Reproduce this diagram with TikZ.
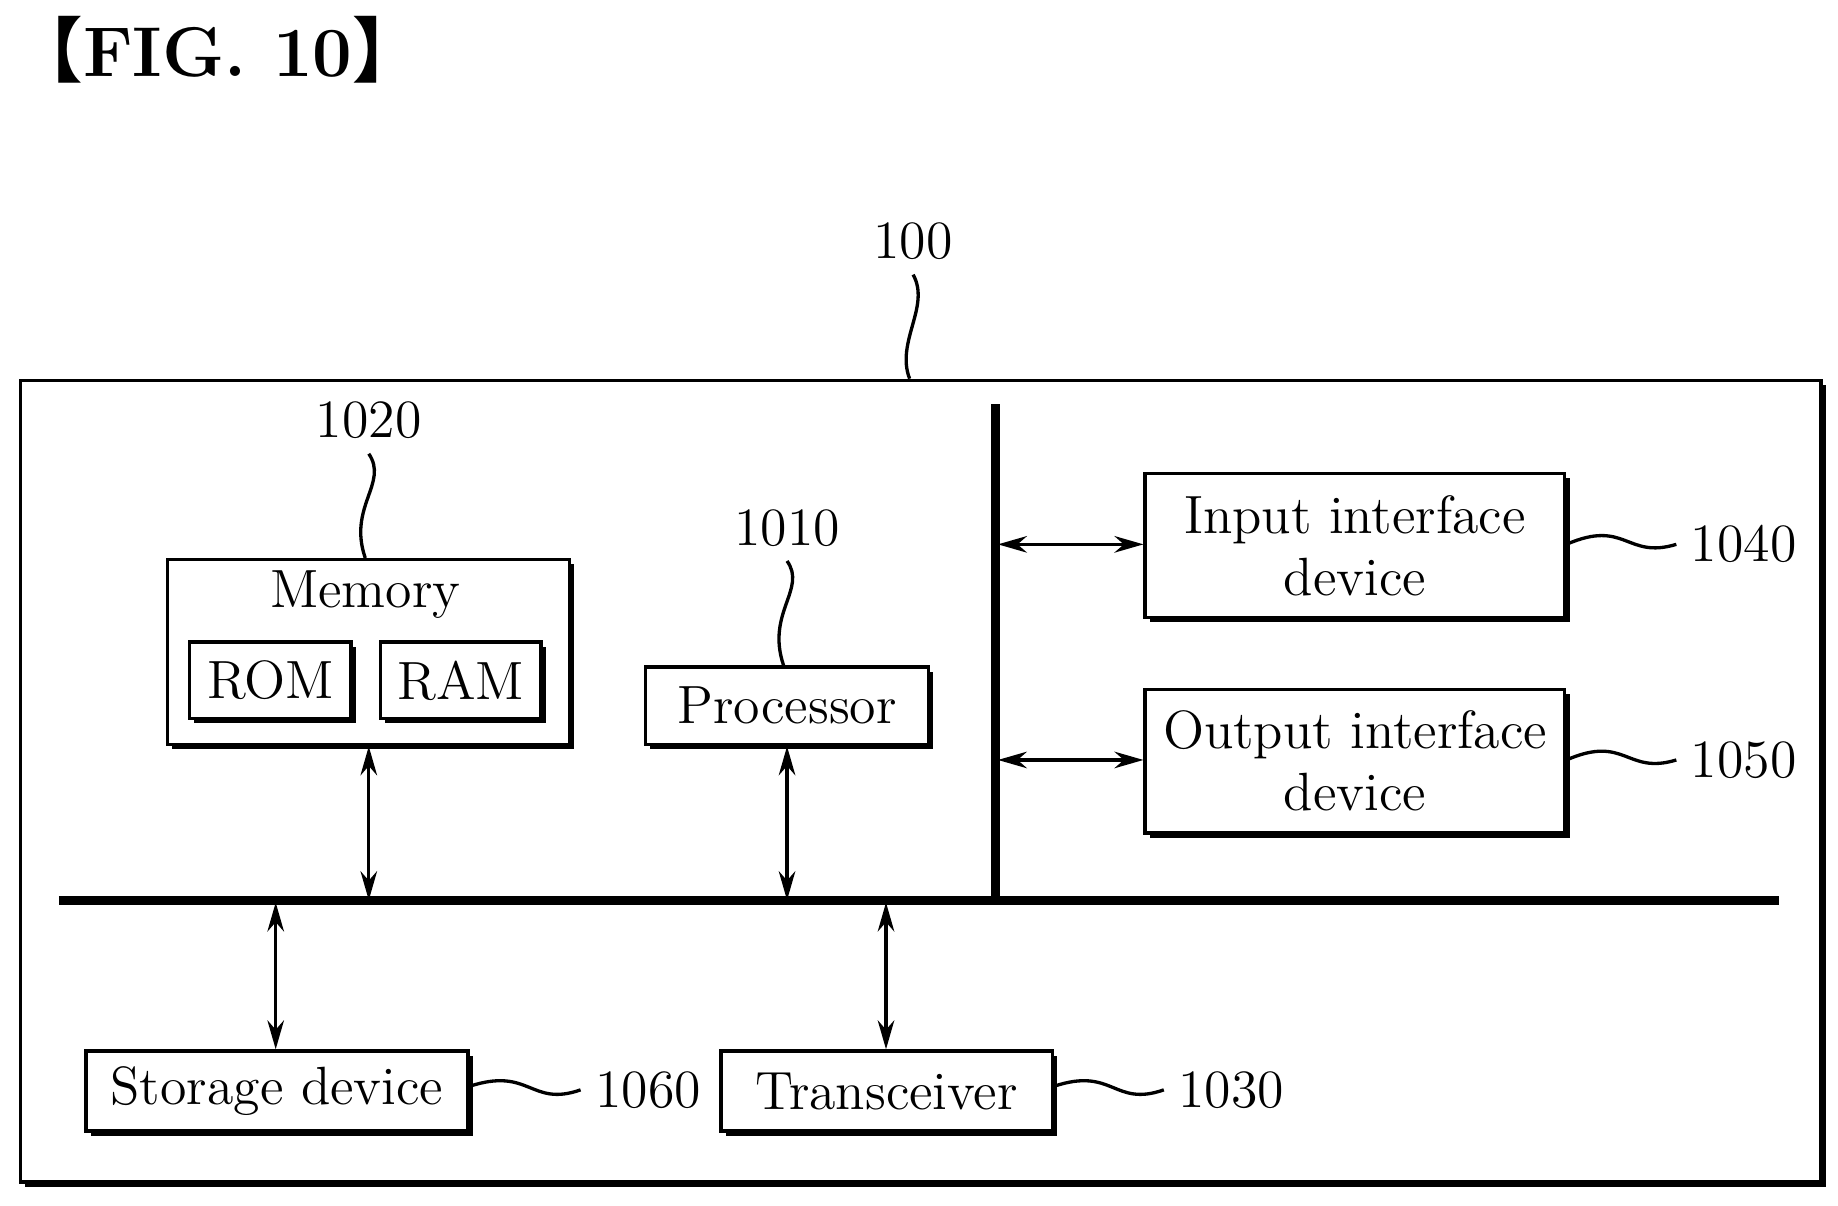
\documentclass[tikz,border=0pt]{standalone}
\usepackage{fontspec}
\newfontfamily\cjk{Noto Sans CJK SC}
\usetikzlibrary{shadows,arrows.meta}
\begin{document}
\begin{tikzpicture}[x=0.01cm,y=-0.01cm,
  every node/.style={font=\fontsize{13}{15}\selectfont},
  box/.style={draw,line width=0.8pt,fill=white,inner sep=0pt,
    drop shadow={fill=black,opacity=1,shadow xshift=0.04cm,shadow yshift=-0.04cm}},
  bus/.style={line width=2.2pt},
  arr/.style={line width=0.8pt,{Stealth[length=7pt,width=4pt]}-{Stealth[length=7pt,width=4pt]}},
  sq/.style={line width=0.8pt}]
\useasboundingbox (0,0) rectangle (1560,1023);
\node[anchor=west,inner sep=0pt,font=\fontsize{17}{20}\bfseries] (title) at (10,42) {{\cjk 【}FIG. 10{\cjk 】}};
\node[box,minimum width=15.27cm,minimum height=6.8cm] (outer) at (781.5,663) {};
\node (l100) at (775,205) {100};
\draw[sq] (l100.south) .. controls (790,260) and (760,290) .. (outer.north -| 772,0);
\draw[bus] (845,343) coordinate (vt) -- (845,764) coordinate (vb);
\draw[bus] (50,764) coordinate (hl) -- (1510,764) coordinate (hr);
\node[box,minimum width=3.41cm,minimum height=1.57cm] (mem) at (312.5,553.5) {};
\node (memt) at (310,505) {Memory};
\node[box,minimum width=1.37cm,minimum height=0.65cm] (rom) at (229.5,577.5) {ROM};
\node[box,minimum width=1.36cm,minimum height=0.65cm] (ram) at (391,577.5) {RAM};
\node (l1020) at (313,357) {1020};
\draw[sq] (l1020.south) .. controls (330,410) and (295,430) .. (mem.north -| 310,0);
\node[box,minimum width=2.4cm,minimum height=0.66cm] (proc) at (668,599) {Processor};
\node (l1010) at (668,448) {1010};
\draw[sq] (l1010.south) .. controls (685,500) and (650,520) .. (proc.north -| 665,0);
\coordinate (bm) at (313,764);
\coordinate (bp) at (668,764);
\draw[arr] (mem.south -| bm) -- (bm);
\draw[arr] (proc.south -| bp) -- (bp);
\node[box,minimum width=3.56cm,minimum height=1.22cm,align=center] (in) at (1150,463) {Input interface\\device};
\node[box,minimum width=3.56cm,minimum height=1.22cm,align=center] (out) at (1150,646) {Output interface\\device};
\coordinate (vi) at (847,462);
\coordinate (vo) at (847,645);
\draw[arr] (vi) -- (in.west |- vi);
\draw[arr] (vo) -- (out.west |- vo);
\node (l1040) at (1480,462) {1040};
\node (l1050) at (1480,645) {1050};
\draw[sq] (in.east |- 0,462) .. controls (1380,440) and (1380,475) .. (l1040.west);
\draw[sq] (out.east |- 0,645) .. controls (1380,623) and (1380,658) .. (l1050.west);
\node[box,minimum width=3.24cm,minimum height=0.68cm] (sto) at (235,926) {Storage device};
\node[box,minimum width=2.81cm,minimum height=0.68cm] (tr) at (752.5,926) {Transceiver};
\coordinate (bs) at (234,766);
\coordinate (bt) at (752,766);
\draw[arr] (bs) -- (sto.north -| bs);
\draw[arr] (bt) -- (tr.north -| bt);
\node (l1060) at (550,925) {1060};
\node (l1030) at (1045,925) {1030};
\draw[sq] (sto.east |- 0,922) .. controls (450,905) and (450,940) .. (l1060.west);
\draw[sq] (tr.east |- 0,922) .. controls (945,905) and (945,940) .. (l1030.west);
\end{tikzpicture}
\end{document}
